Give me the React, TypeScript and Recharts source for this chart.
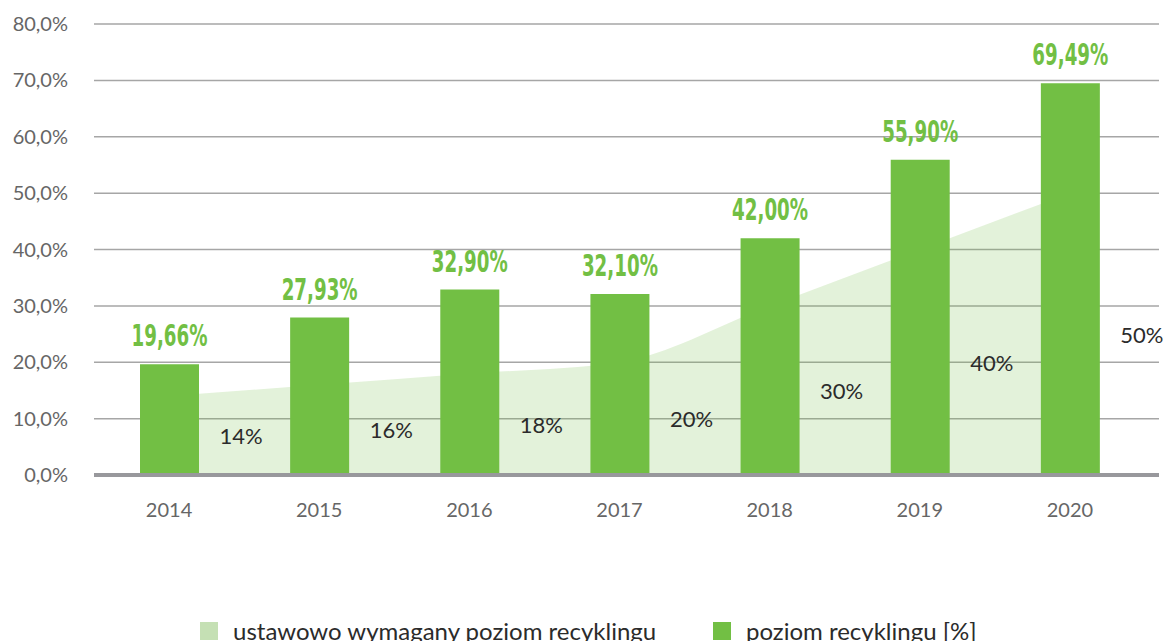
import React from 'react';
import { ComposedChart, Bar, Area, XAxis, YAxis, CartesianGrid, ReferenceLine, LabelList, Legend } from 'recharts';

const years = ['2014', '2015', '2016', '2017', '2018', '2019', '2020'];
const requiredLevel = [14, 16, 18, 20, 30, 40, 50];
const recyclingLevel = [19.66, 27.93, 32.9, 32.1, 42.0, 55.9, 69.49];
const yTicks = [0, 10, 20, 30, 40, 50, 60, 70, 80];
const seriesNames = ['ustawowo wymagany poziom recyklingu', 'poziom recyklingu [%]'];

const data = years.map((y, i) => ({ year: y, required: requiredLevel[i], recycling: recyclingLevel[i] }));

const W = 1165;
const H = 650;
const MARGIN = { top: 24, right: 6, left: 0, bottom: 0 };
const LEGEND_H = 30;
const XAXIS_H = 145;
const PLOT_BOTTOM = H - MARGIN.bottom - LEGEND_H - XAXIS_H;

const fmtPct = (v: number) => v.toFixed(2).replace('.', ',') + '%';
const fmtTick = (v: number) => v.toFixed(1).replace('.', ',') + '%';

const AreaLabel = (props: any) => {
  const { x, y, value } = props;
  if (x == null || y == null) return null;
  return (
    <text x={x + 72} y={(y + PLOT_BOTTOM) / 2} textAnchor="middle" dominantBaseline="central"
      fontFamily="Lato, sans-serif" fontSize={22} fill="#2b2b2b">
      {value}%
    </text>
  );
};

const BarLabel = (props: any) => {
  const { x, y, width, value } = props;
  if (x == null || y == null) return null;
  return (
    <text x={x + width / 2} y={y - 18} textAnchor="middle" textLength={76} lengthAdjust="spacingAndGlyphs"
      fontFamily='"DejaVu Sans Condensed", "DejaVu Sans", sans-serif' fontWeight={700} fontSize={30} fill="#72bf44">
      {fmtPct(Number(value))}
    </text>
  );
};

const LegendContent = () => (
  <div style={{ height: LEGEND_H, display: 'flex', justifyContent: 'flex-start', alignItems: 'flex-start', fontFamily: 'Lato, sans-serif', fontSize: 24, color: '#2b2b2b', paddingLeft: 200 }}>
    <div style={{ display: 'flex', alignItems: 'flex-start', width: 513 }}>
      <div style={{ width: 18, height: 18, background: '#c5e0b4', marginRight: 15, marginTop: 2, flexShrink: 0 }} />
      <span style={{ lineHeight: '22px', whiteSpace: 'nowrap' }}>{seriesNames[0]}</span>
    </div>
    <div style={{ display: 'flex', alignItems: 'flex-start' }}>
      <div style={{ width: 18, height: 18, background: '#72bf44', marginRight: 15, marginTop: 2, flexShrink: 0 }} />
      <span style={{ lineHeight: '22px', whiteSpace: 'nowrap' }}>{seriesNames[1]}</span>
    </div>
  </div>
);

export default function App() {
  return (
    <div style={{ position: 'absolute', left: 0, top: 0, width: W, height: 641, overflow: 'hidden', background: '#fff' }}>
      <ComposedChart width={W} height={H} data={data} margin={MARGIN}>
        <CartesianGrid vertical={false} stroke="#a6a6a6" strokeWidth={1.5} />
        <XAxis dataKey="year" height={XAXIS_H} axisLine={false} tickLine={false} tickSize={0} tickMargin={28}
          padding={{ left: 0, right: 14 }}
          tick={{ fontFamily: 'Lato, sans-serif', fontSize: 20, fill: '#666' }} />
        <YAxis width={94} domain={[0, 80]} ticks={yTicks} axisLine={false} tickLine={false} tickSize={0} tickMargin={26}
          tickFormatter={fmtTick} interval={0}
          tick={{ fontFamily: 'Lato, sans-serif', fontSize: 20, fill: '#666' }} />
        <Area dataKey="required" name={seriesNames[0]} type="monotone" stroke="none" fill="#72bf44" fillOpacity={0.2}
          isAnimationActive={false} label={<AreaLabel />} />
        <Bar dataKey="recycling" name={seriesNames[1]} fill="#72bf44" barSize={59} isAnimationActive={false}>
          <LabelList dataKey="recycling" content={<BarLabel />} />
        </Bar>
        <ReferenceLine y={0} stroke="#98989c" strokeWidth={4} />
        <Legend verticalAlign="bottom" height={LEGEND_H} content={<LegendContent />} />
      </ComposedChart>
    </div>
  );
}
